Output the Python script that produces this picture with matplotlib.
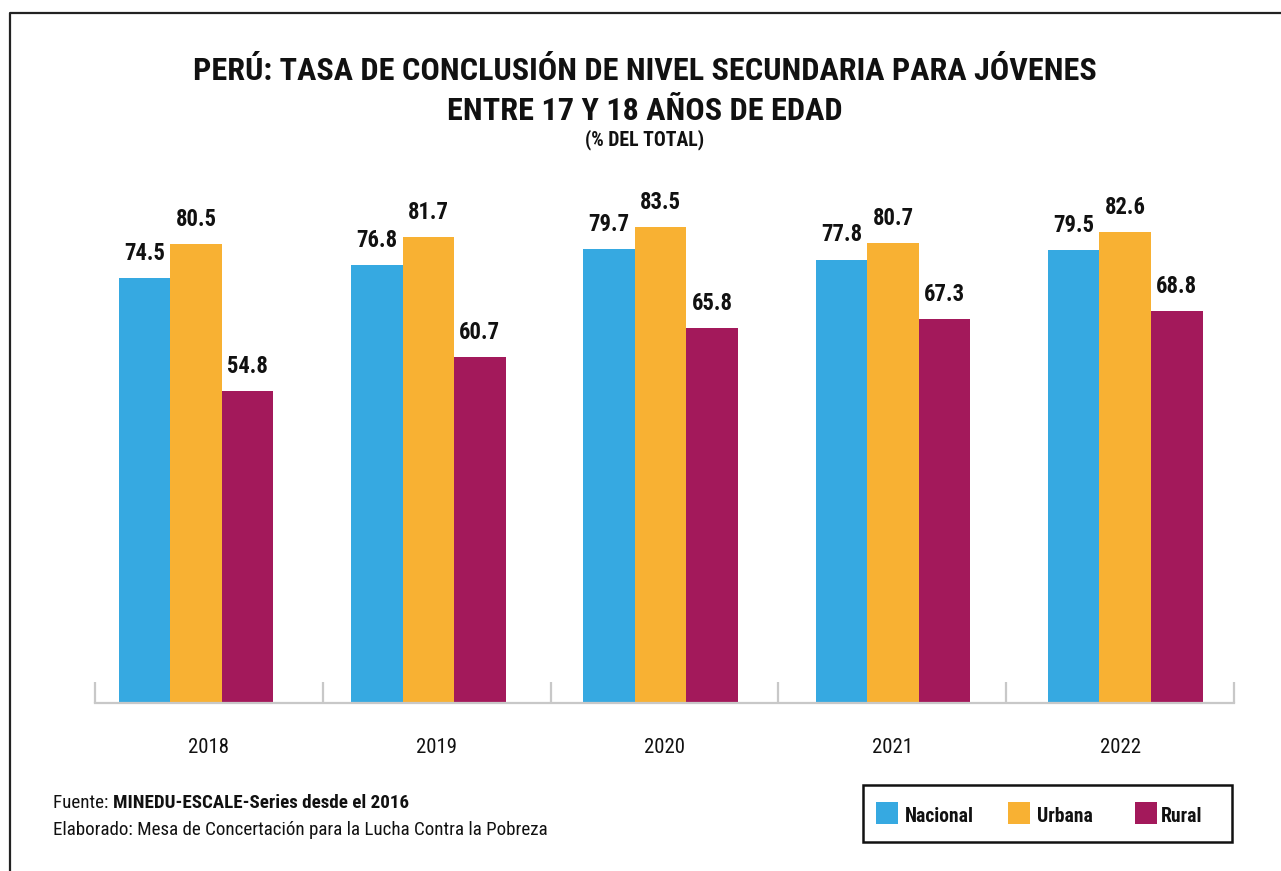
import matplotlib
matplotlib.use("Agg")
import matplotlib.pyplot as plt
from matplotlib.lines import Line2D
from matplotlib.patches import Rectangle
from matplotlib.transforms import blended_transform_factory
import matplotlib.font_manager as fm
import numpy as np

years = ["2018", "2019", "2020", "2021", "2022"]
nacional = [74.5, 76.8, 79.7, 77.8, 79.5]
urbana = [80.5, 81.7, 83.5, 80.7, 82.6]
rural = [54.8, 60.7, 65.8, 67.3, 68.8]
series_names = ["Nacional", "Urbana", "Rural"]
colors = ["#36A9E1", "#F8B133", "#A3195B"]

# choose a condensed font with regular and bold
prefs = ["Roboto Condensed", "Archivo Narrow", "Liberation Sans Narrow",
         "Encode Sans Condensed", "Asap Condensed", "Barlow Semi Condensed", "DejaVu Sans"]
FONT = "DejaVu Sans"
for fam in prefs:
    ws = {f.weight for f in fm.fontManager.ttflist if f.name == fam}
    if 700 in ws or "bold" in ws:
        FONT = fam
        break
plt.rcParams["font.family"] = [FONT, "DejaVu Sans"]
plt.rcParams["font.stretch"] = "condensed" if FONT == "DejaVu Sans" else "normal"

W, H = 1281, 871
fig = plt.figure(figsize=(W / 100, H / 100), dpi=100)
fig.patch.set_facecolor("white")
renderer = fig.canvas.get_renderer()


def fit(t, target_px):
    t.set_fontsize(20)
    w = t.get_window_extent(renderer=renderer).width
    t.set_fontsize(20 * target_px / w)
    return t.get_fontsize()


def fy(px):
    return 1 - px / H


ax = fig.add_axes([95 / W, fy(703), (1234 - 95) / W, 513 / H])
x = np.arange(len(years))
xl, xr = -0.435, 4.468
bw = 0.222
ax.set_xlim(xl, xr)
ax.set_ylim(0, 90)

probe = ax.text(0, 0, "80.5", fontweight="bold")
vsize = fit(probe, 41)
probe.remove()

for i, (vals, c) in enumerate(zip([nacional, urbana, rural], colors)):
    pos = x + (i - 1) * bw
    ax.bar(pos, vals, width=bw, color=c, edgecolor="none", zorder=2)
    for p, v in zip(pos, vals):
        ax.annotate(f"{v:.1f}", (p, v), xytext=(0, 13), textcoords="offset points",
                    ha="center", va="baseline", fontsize=vsize, fontweight="bold",
                    color="#111111")

for s in ["top", "right", "left"]:
    ax.spines[s].set_visible(False)
ax.spines["bottom"].set_color("#c8c8c8")
ax.spines["bottom"].set_linewidth(1.6)
ax.spines["bottom"].set_zorder(3)
ax.set_yticks([])
bounds = np.linspace(xl, xr, len(years) + 1)
ax.set_xticks(bounds)
ax.set_xticklabels([])
ax.tick_params(axis="x", which="major", direction="in", length=15, width=1.6, color="#c8c8c8")

tr = blended_transform_factory(ax.transData, fig.transFigure)
probe = fig.text(0, 0, "2018")
ysize = fit(probe, 41)
probe.remove()
mids = (bounds[:-1] + bounds[1:]) / 2
for xi, yr in zip(mids, years):
    ax.text(xi, fy(753), yr, transform=tr, ha="center", va="baseline",
            fontsize=ysize, color="#111111")

# frame
fig.add_artist(Line2D([10 / W, 10 / W, 1.0], [0, fy(13), fy(13)],
                      transform=fig.transFigure, color="#222222", lw=1.6))

# titles
t1 = fig.text(645 / W, fy(80), "PERÚ: TASA DE CONCLUSIÓN DE NIVEL SECUNDARIA PARA JÓVENES",
              ha="center", va="baseline", fontweight="bold", color="#111111")
tsize = fit(t1, 900)
fig.text(645 / W, fy(120), "ENTRE 17 Y 18 AÑOS DE EDAD",
         ha="center", va="baseline", fontsize=tsize, fontweight="bold", color="#111111")
st = fig.text(645 / W, fy(145), "(% DEL TOTAL)",
              ha="center", va="baseline", fontweight="bold", color="#111111")
fit(st, 120)

# footer
e = fig.text(53 / W, fy(835), "Elaborado: Mesa de Concertación para la Lucha Contra la Pobreza",
             ha="left", va="baseline", color="#111111")
fsize = fit(e, 495)
f1 = fig.text(53 / W, fy(808), "Fuente: ", ha="left", va="baseline", fontsize=fsize, color="#111111")
bb = f1.get_window_extent(renderer=renderer)
fig.text(bb.x1 / W, fy(808), "MINEDU-ESCALE-Series desde el 2016", ha="left", va="baseline",
         fontsize=fsize, fontweight="semibold", color="#111111")

# legend (manual box)
fig.add_artist(Rectangle((863 / W, fy(842)), (1232 - 863) / W, (842 - 785) / H,
                         transform=fig.transFigure, facecolor="white", edgecolor="#111111",
                         lw=1.8))
patch_x = [876, 1008, 1135]
text_x = [905, 1037, 1161]
probe = fig.text(0, 0, "Nacional", fontweight="bold")
lsize = fit(probe, 69)
probe.remove()
for px_, tx_, name, c in zip(patch_x, text_x, series_names, colors):
    fig.add_artist(Rectangle((px_ / W, fy(824)), 22 / W, 22 / H, transform=fig.transFigure,
                             facecolor=c, edgecolor="none"))
    fig.text(tx_ / W, fy(822), name, ha="left", va="baseline", fontsize=lsize,
             fontweight="bold", color="#111111")

fig.savefig("out.png", dpi=100, facecolor="white")
